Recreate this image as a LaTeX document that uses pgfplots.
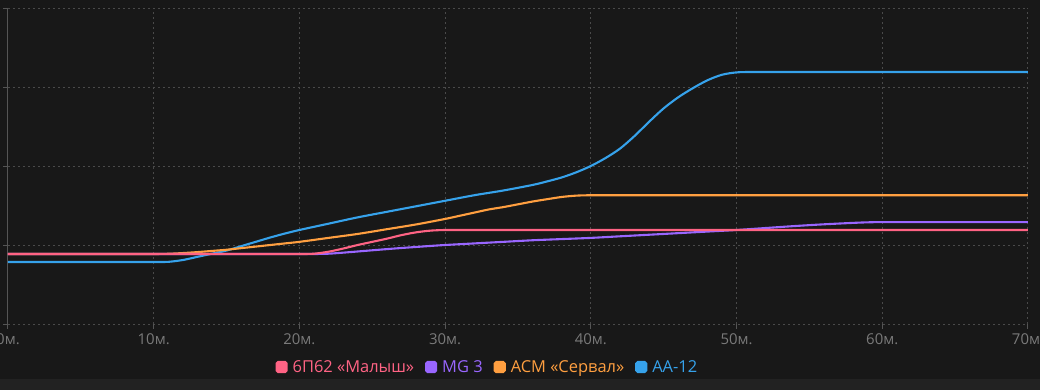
\documentclass[border=0pt]{standalone}
\usepackage{pgfplots}
\pgfplotsset{compat=1.18}
\usepackage{fontspec}
\setmainfont{Open Sans}
\definecolor{bg}{HTML}{181818}
\definecolor{strip}{HTML}{222222}
\definecolor{gridc}{HTML}{4A4A4A}
\definecolor{axc}{HTML}{555555}
\definecolor{tickc}{HTML}{7A7A7A}
\definecolor{cpink}{HTML}{FF6384}
\definecolor{cpurple}{HTML}{9966FF}
\definecolor{corange}{HTML}{FF9F40}
\definecolor{cblue}{HTML}{36A2EB}
\begin{document}
\begin{tikzpicture}
\useasboundingbox (-8bp,-66bp) rectangle (1032bp,324bp);
\fill[bg] (-8bp,-66bp) rectangle (1032bp,324bp);
\fill[strip] (-8bp,-66bp) rectangle (1032bp,-55bp);
\begin{axis}[
  at={(0,0)}, anchor=south west,
  scale only axis, width=1020bp, height=316bp,
  xmin=0, xmax=70, ymin=0, ymax=4,
  xtick={0,10,...,70},
  xticklabels={0м.,10м.,20м.,30м.,40м.,50м.,60м.,70м.},
  ytick={0,1,2,3,4}, yticklabels={},
  axis lines*=left,
  x axis line style={draw=none},
  y axis line style={draw=axc, line width=1bp},
  grid=major,
  major grid style={draw=gridc, line width=1bp, dash pattern=on 2bp off 3bp},
  tick align=outside, major tick length=5bp,
  tick style={draw=axc, line width=1bp},
  xticklabel style={text=tickc, font=\fontsize{15}{17}\selectfont, yshift=-1bp},
  legend style={at={(0.47,0)}, anchor=center, yshift=-43bp, draw=none, fill=none,
    font=\fontsize{16.5}{19}\selectfont,
    /tikz/every even column/.append style={column sep=9bp}},
  legend columns=4, legend cell align=left, reverse legend,
  every axis plot/.append style={line width=2.1bp, smooth, tension=0.5, mark=none},
]
\addplot[cblue, legend image code/.code={\fill[cblue, rounded corners=1.5bp] (0bp,-5bp) rectangle (10bp,5bp); \path (13bp,0bp);}] coordinates {
(0,0.785)(2,0.785)(4,0.785)(6,0.785)(8,0.785)(9,0.785)(10,0.785)(11,0.787)(12,0.81)(13,0.85)(14,0.89)(15,0.93)(16,0.985)(17,1.04)(18,1.095)(19,1.145)(20,1.19)(22,1.27)(24,1.35)(26,1.42)(28,1.49)(30,1.56)(32,1.63)(34,1.69)(36,1.76)(37,1.805)(38,1.855)(39,1.92)(40,2.0)(41,2.1)(42,2.22)(43,2.38)(44,2.56)(45,2.73)(46,2.87)(47,2.985)(48,3.085)(49,3.155)(50,3.185)(51,3.19)(52,3.19)(54,3.19)(56,3.19)(58,3.19)(60,3.19)(62,3.19)(64,3.19)(66,3.19)(68,3.19)(70,3.19)};
\addlegendentry{\textcolor{cblue}{AA-12}}
\addplot[corange, legend image code/.code={\fill[corange, rounded corners=1.5bp] (0bp,-5bp) rectangle (10bp,5bp); \path (13bp,0bp);}] coordinates {
(0,0.886)(2,0.886)(4,0.886)(6,0.886)(8,0.886)(9,0.886)(10,0.886)(11,0.889)(12,0.898)(13,0.91)(14,0.925)(15,0.94)(16,0.96)(17,0.98)(18,1.0)(19,1.02)(20,1.04)(22,1.09)(24,1.14)(26,1.2)(28,1.26)(30,1.33)(31,1.37)(32,1.41)(33,1.45)(34,1.48)(35,1.515)(36,1.55)(37,1.58)(38,1.608)(39,1.625)(40,1.63)(41,1.63)(42,1.63)(44,1.63)(46,1.63)(48,1.63)(50,1.63)(52,1.63)(54,1.63)(56,1.63)(58,1.63)(60,1.63)(62,1.63)(64,1.63)(66,1.63)(68,1.63)(70,1.63)};
\addlegendentry{\textcolor{corange}{ACM «Сервал»}}
\addplot[cpurple, legend image code/.code={\fill[cpurple, rounded corners=1.5bp] (0bp,-5bp) rectangle (10bp,5bp); \path (13bp,0bp);}] coordinates {
(0,0.886)(2,0.886)(4,0.886)(6,0.886)(8,0.886)(10,0.886)(12,0.886)(14,0.886)(16,0.886)(18,0.886)(20,0.886)(21,0.886)(22,0.89)(23,0.903)(24,0.918)(25,0.933)(26,0.948)(27,0.962)(28,0.975)(29,0.988)(30,1.0)(32,1.02)(34,1.04)(36,1.06)(38,1.075)(40,1.09)(42,1.11)(44,1.13)(46,1.15)(48,1.17)(50,1.19)(52,1.215)(54,1.24)(56,1.262)(58,1.28)(59,1.287)(60,1.29)(62,1.29)(64,1.29)(66,1.29)(68,1.29)(70,1.29)};
\addlegendentry{\textcolor{cpurple}{MG 3}}
\addplot[cpink, legend image code/.code={\fill[cpink, rounded corners=1.5bp] (0bp,-5bp) rectangle (10bp,5bp); \path (13bp,0bp);}] coordinates {
(0,0.886)(2,0.886)(4,0.886)(6,0.886)(8,0.886)(10,0.886)(12,0.886)(14,0.886)(16,0.886)(18,0.886)(20,0.886)(21,0.89)(22,0.915)(23,0.955)(24,1.0)(25,1.04)(26,1.08)(27,1.125)(28,1.16)(29,1.182)(30,1.19)(31,1.19)(32,1.19)(34,1.19)(36,1.19)(38,1.19)(40,1.19)(42,1.19)(44,1.19)(46,1.19)(48,1.19)(50,1.19)(52,1.19)(54,1.19)(56,1.19)(58,1.19)(60,1.19)(62,1.19)(64,1.19)(66,1.19)(68,1.19)(70,1.19)};
\addlegendentry{\textcolor{cpink}{6П62 «Малыш»}}
\end{axis}
\end{tikzpicture}
\end{document}
